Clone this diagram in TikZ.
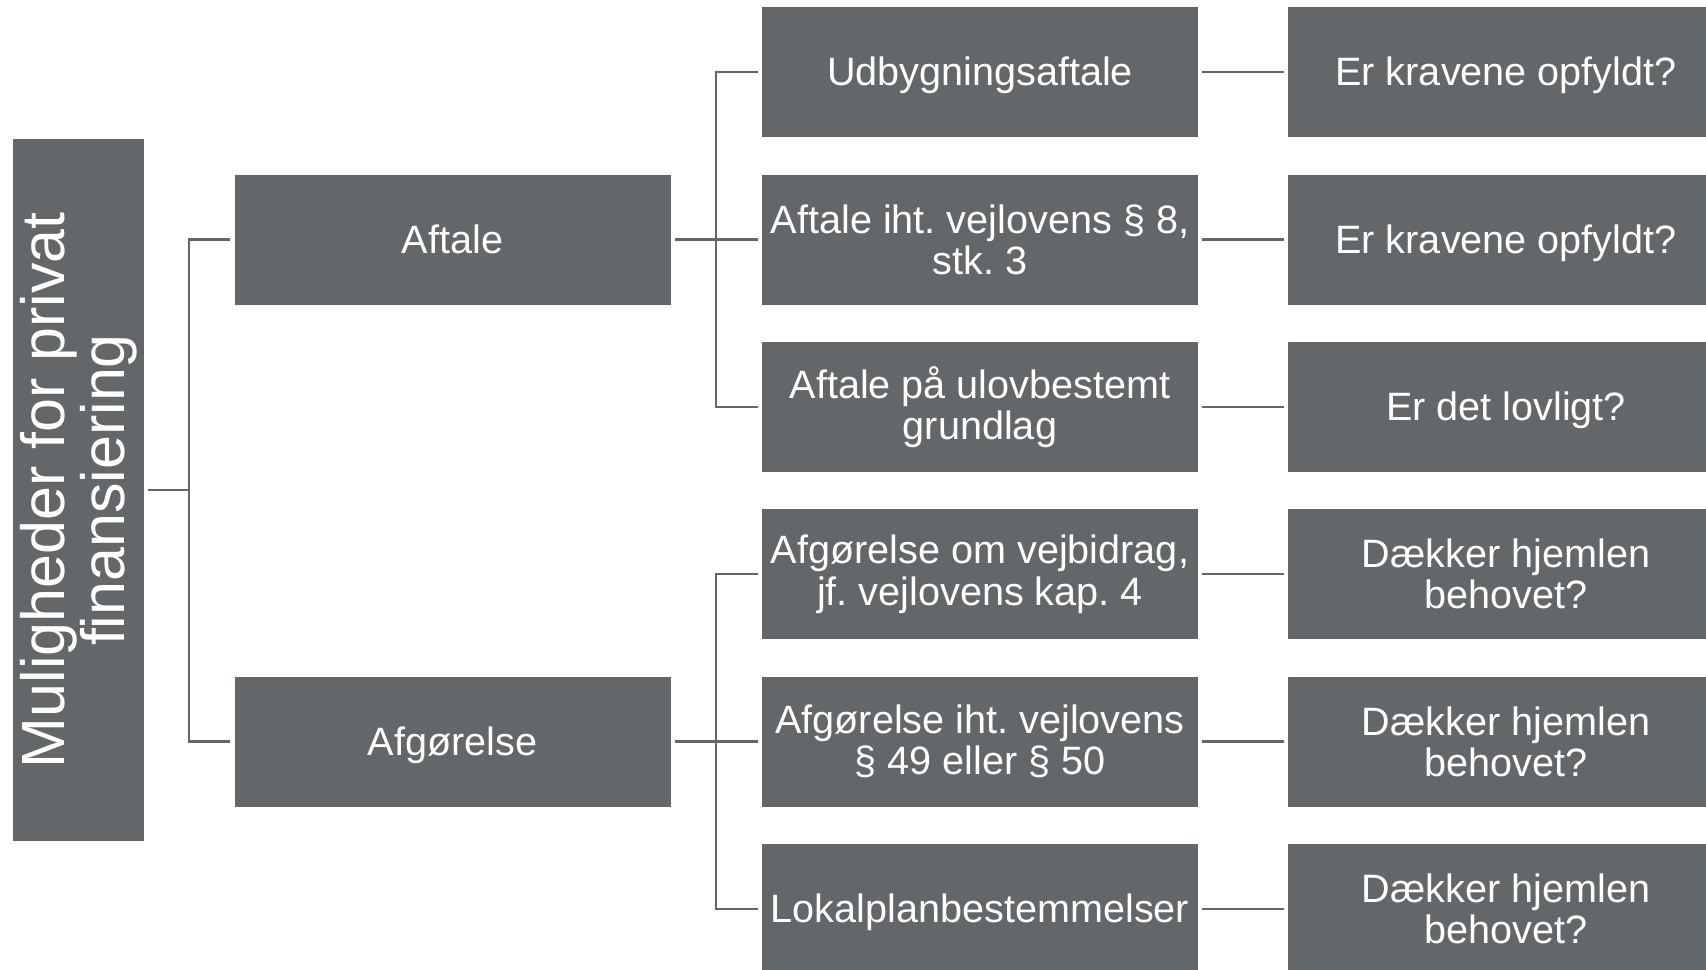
\documentclass[tikz,border=0pt]{standalone}
\usepackage{fontspec}
\setmainfont{Liberation Sans}
\frenchspacing
\definecolor{boxgray}{RGB}{99,103,106}
\tikzset{
    box/.style={fill=boxgray, text=white, inner sep=1pt, align=center,
        minimum width=218pt, minimum height=65pt,
        font=\fontsize{19.8}{20.6}\selectfont},
    oneline/.style={box, text height=17.9pt, text depth=4.2pt},
    conn/.style={draw=boxgray, line width=1.2pt, shorten >=2pt}
}
\begin{document}
\begin{tikzpicture}[x=.5pt, y=-.5pt]
\useasboundingbox (0,0) rectangle (1706,969);

% root, turned on its side
\node[box, rotate=90, minimum width=351pt, minimum height=65.5pt,
    font=\fontsize{30.5}{30}\selectfont] (root) at (78.5,490)
    {Muligheder for privat\\finansiering};

\node[oneline] (aft) at (452.5,239.5) {Aftale};
\node[oneline] (afg) at (452.5,741.5) {Afgørelse};

\node[oneline] (b1) at (980,72.2) {Udbygningsaftale};
\node[box] (b2) at (980,239.5) {Aftale iht. vejlovens § 8,\\stk. 3};
\node[box] (b3) at (980,406.8) {Aftale på ulovbestemt\\grundlag};
\node[box] (b4) at (980,574.2) {Afgørelse om vejbidrag,\\jf. vejlovens kap. 4};
\node[box] (b5) at (980,741.5) {Afgørelse iht. vejlovens\\§ 49 eller § 50};
\node[oneline] (b6) at (980,908.8) {Lokalplanbestemmelser};

\node[oneline] (c1) at (1506,72.2) {Er kravene opfyldt?};
\node[oneline] (c2) at (1506,239.5) {Er kravene opfyldt?};
\node[oneline] (c3) at (1506,406.8) {Er det lovligt?};
\node[box] (c4) at (1506,574.2) {Dækker hjemlen\\behovet?};
\node[box] (c5) at (1506,741.5) {Dækker hjemlen\\behovet?};
\node[box] (c6) at (1506,908.8) {Dækker hjemlen\\behovet?};

\coordinate (hubA) at (189,490);
\coordinate (hubB) at (716,239.5);
\coordinate (hubC) at (716,741.5);

\draw[conn] (hubA) -- (root);
\draw[conn] (hubA) |- (aft);
\draw[conn] (hubA) |- (afg);

\draw[conn] (hubB) -- (aft);
\draw[conn] (hubC) -- (afg);
\foreach \i in {1,2,3}
{
    \draw[conn] (hubB) |- (b\i);
}
\foreach \i in {4,5,6}
{
    \draw[conn] (hubC) |- (b\i);
}
\foreach \i in {1,...,6}
{
    \draw[conn, shorten <=2pt] (b\i) -- (c\i);
}
\end{tikzpicture}
\end{document}
